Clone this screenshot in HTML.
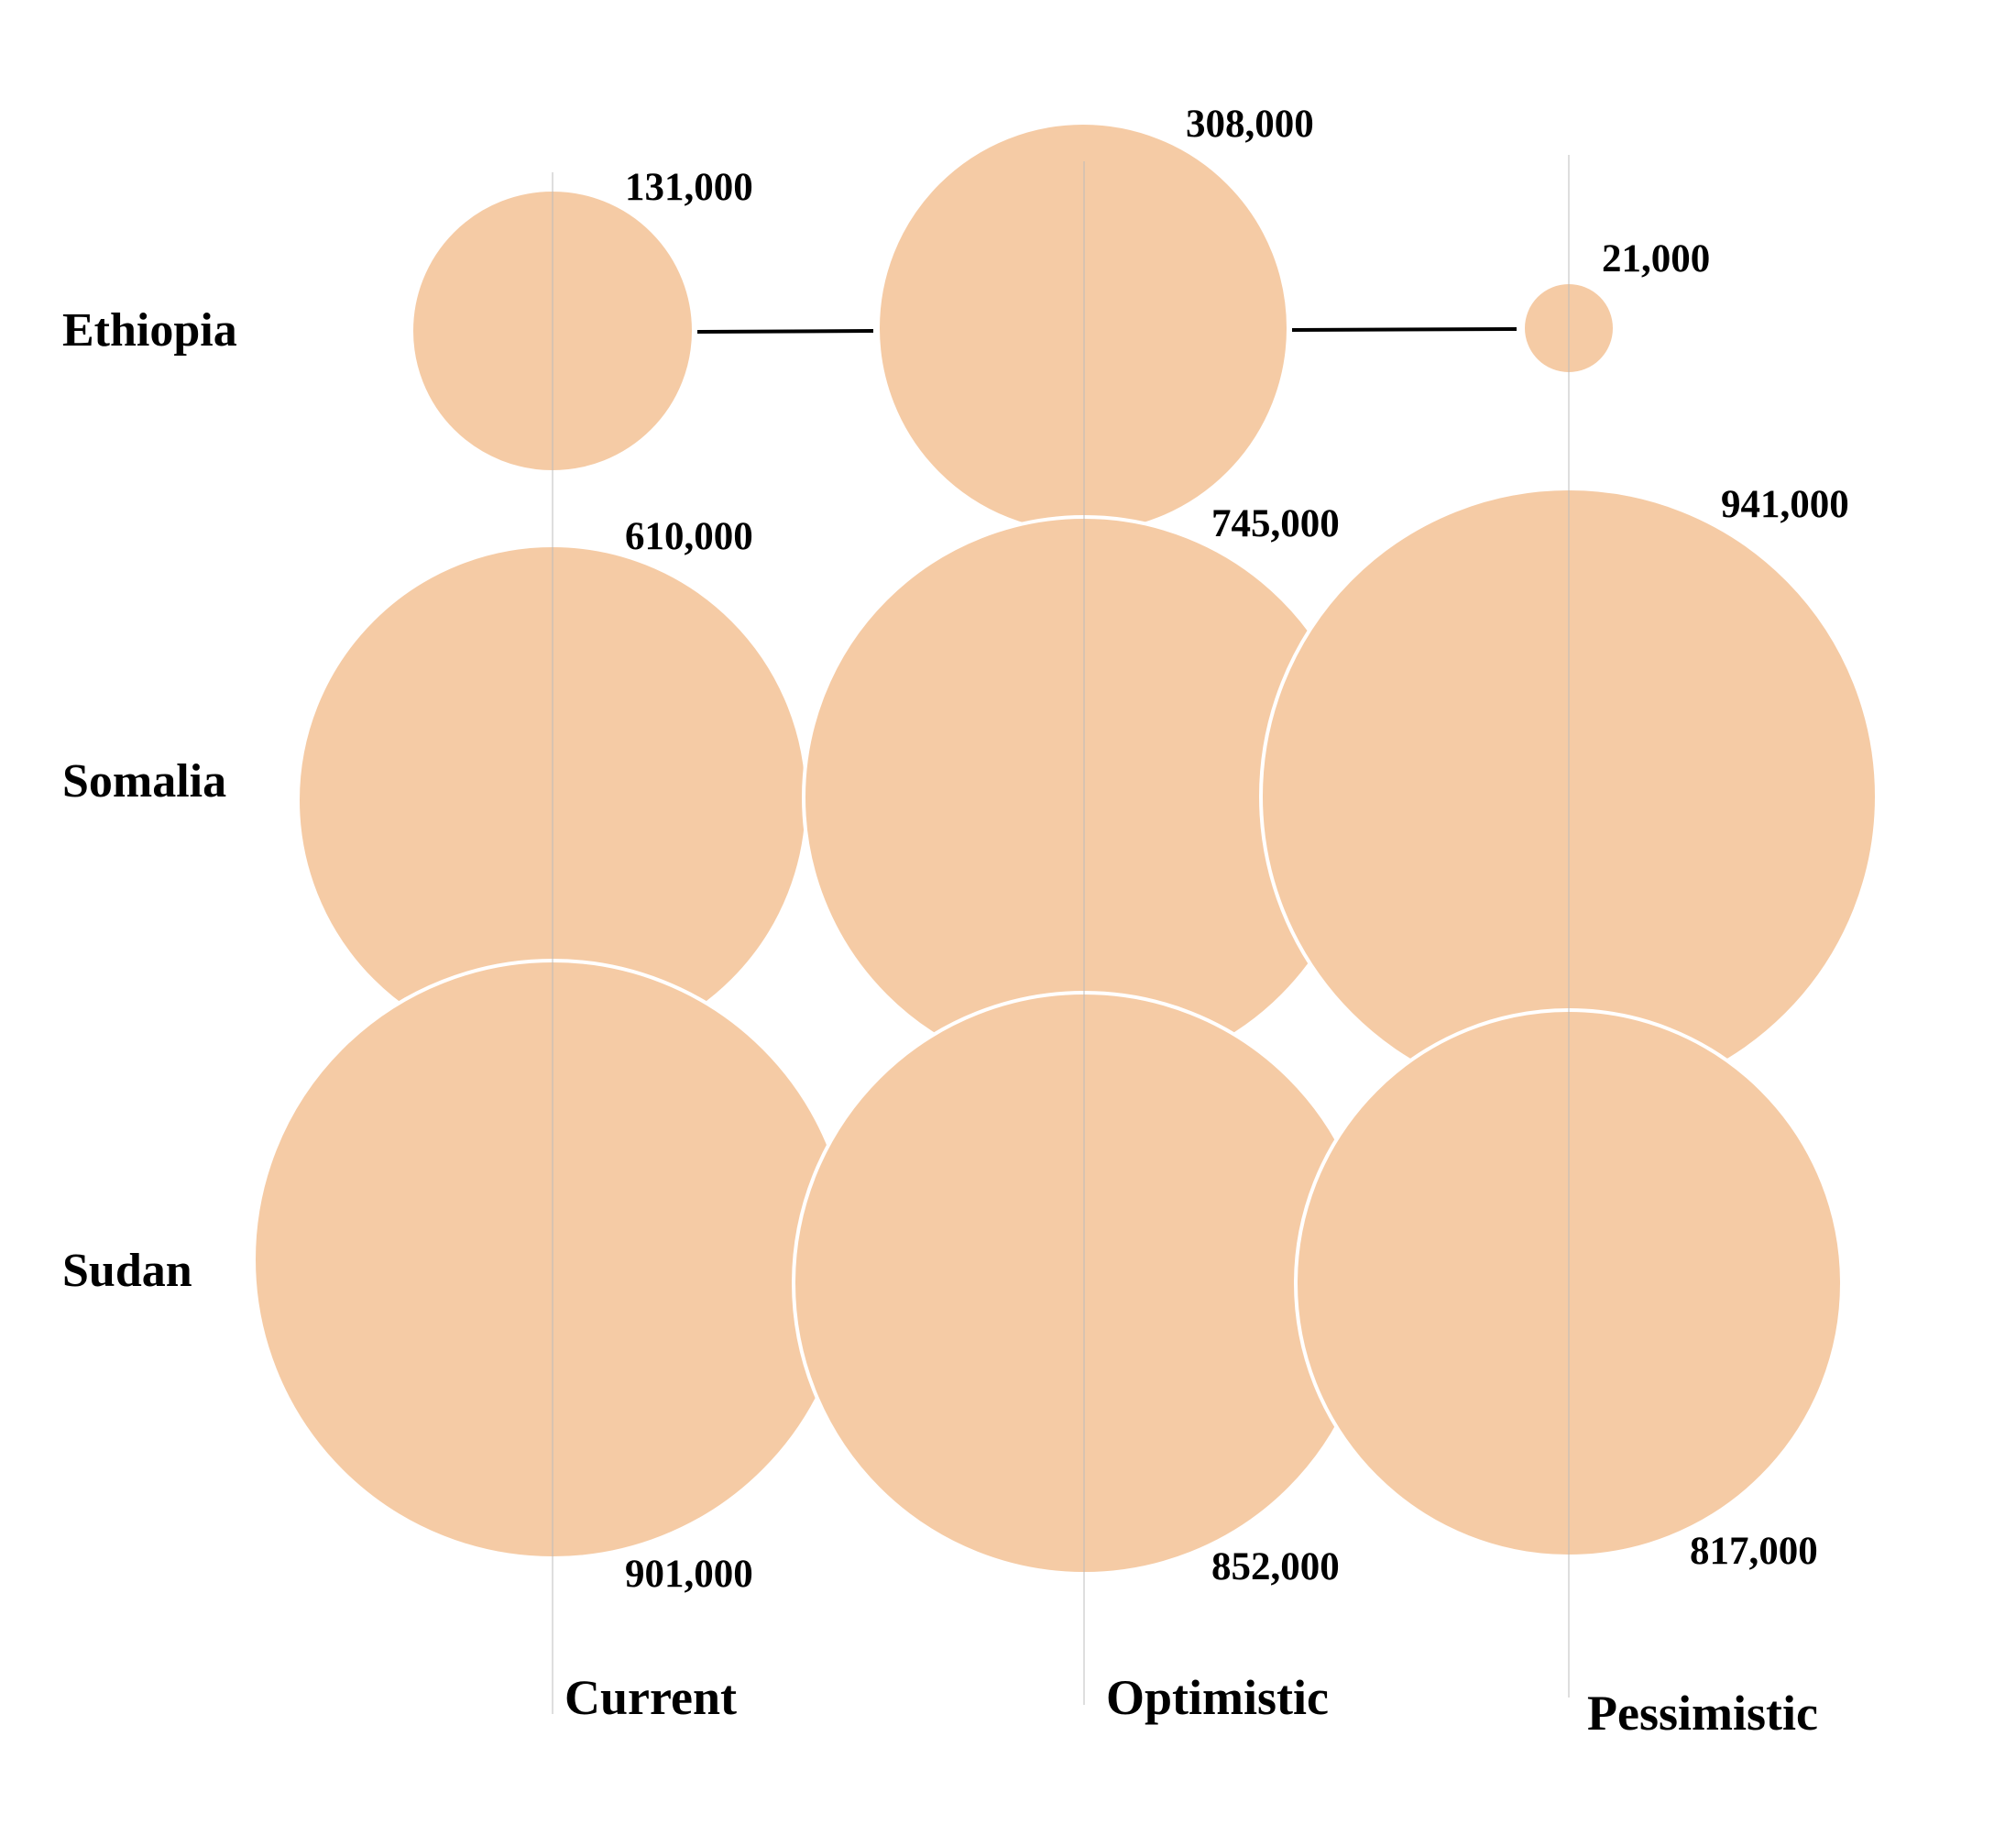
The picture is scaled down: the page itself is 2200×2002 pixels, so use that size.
<!DOCTYPE html>
<html><head><meta charset="utf-8"><style>
html,body{margin:0;padding:0;background:#fff;}
svg{display:block;}
text{font-family:"Liberation Serif",serif;font-weight:bold;fill:#000;}
.row{font-size:52px;}
.val{font-size:43px;}
.col{font-size:54px;}
</style></head><body>
<svg width="2200" height="2002" viewBox="0 0 2200 2002" xmlns="http://www.w3.org/2000/svg">
<rect width="2200" height="2002" fill="#fff"/>
<g fill="#f5cba5" stroke="#fff" stroke-width="4">
<circle cx="603" cy="361" r="154"/>
<circle cx="1182" cy="358" r="224"/>
<circle cx="1712" cy="358" r="50"/>
<circle cx="603" cy="873" r="278"/>
<circle cx="1183" cy="870" r="306"/>
<circle cx="1712" cy="869" r="336"/>
<circle cx="603" cy="1374" r="326"/>
<circle cx="1183" cy="1400" r="317"/>
<circle cx="1712" cy="1400" r="298"/>
</g>
<g stroke="#000" stroke-width="4">
<line x1="761" y1="362" x2="953" y2="361"/>
<line x1="1410" y1="360" x2="1655" y2="359"/>
</g>
<g stroke="#bbb" stroke-width="1.2" opacity="0.8">
<line x1="603" y1="188" x2="603" y2="1870"/>
<line x1="1183" y1="176" x2="1183" y2="1860"/>
<line x1="1712" y1="169" x2="1712" y2="1852"/>
</g>
<text class="row" x="68" y="377">Ethiopia</text>
<text class="row" x="68" y="869">Somalia</text>
<text class="row" x="68" y="1403">Sudan</text>
<text class="val" x="682" y="218">131,000</text>
<text class="val" x="1294" y="149">308,000</text>
<text class="val" x="1748" y="296">21,000</text>
<text class="val" x="682" y="599">610,000</text>
<text class="val" x="1322" y="585">745,000</text>
<text class="val" x="1878" y="564">941,000</text>
<text class="val" x="682" y="1731">901,000</text>
<text class="val" x="1322" y="1723">852,000</text>
<text class="val" x="1844" y="1706">817,000</text>
<text class="col" x="616" y="1870">Current</text>
<text class="col" x="1207" y="1870">Optimistic</text>
<text class="col" x="1732" y="1887">Pessimistic</text>
</svg>
</body></html>
